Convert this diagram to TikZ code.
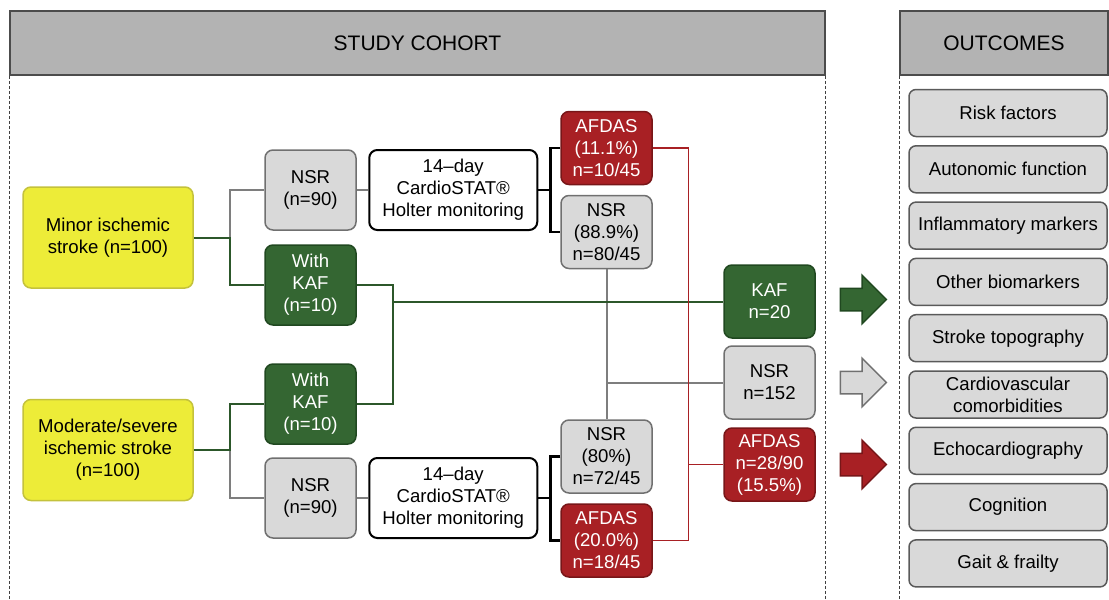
\documentclass[tikz,border=0pt]{standalone}
\usepackage{fontspec}
\setmainfont{Liberation Sans}
\usetikzlibrary{positioning,shapes.arrows}

\definecolor{strokeyellow}{RGB}{237,236,56}
\definecolor{strokeedge}{RGB}{196,194,60}
\definecolor{nsrgray}{RGB}{217,217,217}
\definecolor{nsredge}{RGB}{112,112,112}
\definecolor{kafgreen}{RGB}{52,102,50}
\definecolor{kafedge}{RGB}{32,72,32}
\definecolor{afdasred}{RGB}{168,32,36}
\definecolor{afdasedge}{RGB}{120,22,24}
\definecolor{headgray}{RGB}{179,179,179}

\newcommand{\boxfont}{\fontsize{18.6}{22}\selectfont}
\newcommand{\headfont}{\fontsize{21}{25}\selectfont}

\tikzstyle{cohort flow}=[
    x=1pt, y=-1pt, node distance=9.5pt and 11.5pt,
    every node/.style={font=\boxfont, align=center, inner sep=0pt},
]
\tikzstyle{any box}=[draw, rounded corners=8pt, line width=1.5pt]
\tikzstyle{stroke box}=[any box, fill=strokeyellow, draw=strokeedge, minimum width=170pt, minimum height=101pt]
\tikzstyle{small box}=[any box, minimum width=91pt, minimum height=80pt]
\tikzstyle{result box}=[minimum height=73pt]
\tikzstyle{nsr box}=[small box, fill=nsrgray, draw=nsredge]
\tikzstyle{kaf box}=[small box, fill=kafgreen, draw=kafedge, text=white]
\tikzstyle{afdas box}=[small box, fill=afdasred, draw=afdasedge, text=white]
\tikzstyle{holter box}=[any box, draw=black, fill=white, line width=2pt, minimum width=168pt, minimum height=80pt]
\tikzstyle{outcome box}=[any box, fill=nsrgray, draw=nsredge!80!black, rounded corners=7pt, minimum width=198pt, minimum height=47pt]
\tikzstyle{head box}=[draw=black!70, fill=headgray, line width=1.5pt, minimum height=64pt, font=\headfont]
\tikzstyle{big arrow}=[single arrow, minimum height=46pt, minimum width=47pt, inner sep=0pt, inner ysep=10.5pt, single arrow head extend=13pt, line width=1.5pt]
\tikzstyle{gray line}=[draw=nsredge!90, line width=2pt]
\tikzstyle{green line}=[draw=kafgreen!85!black, line width=2pt]
\tikzstyle{red line}=[draw=afdasred, line width=1.5pt]
\tikzstyle{black line}=[draw=black, line width=2.5pt]
\tikzstyle{frame line}=[draw=black!75, line width=1pt, dash pattern=on 3pt off 2pt]

\begin{document}
\begin{tikzpicture}[cohort flow]
    \useasboundingbox (0,0) rectangle (1109,600);

    \node[head box, minimum width=815pt] (cohortHead) at (417.5,43) {STUDY COHORT};
    \node[head box, minimum width=208pt] (outcomeHead) at (1004,43) {OUTCOMES};
    \coordinate (floor) at (0,600);
    \draw[frame line] (cohortHead.south west) -- (cohortHead.south west |- floor);
    \draw[frame line] (cohortHead.south east) -- (cohortHead.south east |- floor);
    \draw[frame line] (outcomeHead.south west) -- (outcomeHead.south west |- floor);

    \node[stroke box] (minor) at (108,237.5) {Minor ischemic\\stroke (n=100)};
    \node[stroke box] (modsev) at (108,450) {Moderate/severe\\ischemic stroke\\(n=100)};

    \node[nsr box] (nsrA) at (310.5,190) {NSR\\(n=90)};
    \node[kaf box] (kafA) at (310.5,285) {With\\KAF\\(n=10)};
    \node[kaf box] (kafB) at (310.5,404) {With\\KAF\\(n=10)};
    \node[nsr box] (nsrB) at (310.5,498) {NSR\\(n=90)};

    \node[holter box, right=of nsrA] (holterA) {14–day\\CardioSTAT®\\Holter monitoring};
    \node[holter box, right=of nsrB] (holterB) {14–day\\CardioSTAT®\\Holter monitoring};

    \node[afdas box, result box] (afdasA) at (606.5,148) {AFDAS\\(11.1\%)\\n=10/45};
    \node[nsr box, result box, below=of afdasA] (nsrA2) {NSR\\(88.9\%)\\n=80/45};
    \node[nsr box, result box] (nsrB2) at (606.5,456.5) {NSR\\(80\%)\\n=72/45};
    \node[afdas box, result box, below=of nsrB2] (afdasB) {AFDAS\\(20.0\%)\\n=18/45};

    \node[kaf box, result box] (kafT) at (769.5,301.5) {KAF\\n=20};
    \node[nsr box, result box, below=6.5pt of kafT] (nsrT) {NSR\\n=152};
    \node[afdas box, result box, below=7.5pt of nsrT] (afdasT) {AFDAS\\n=28/90\\(15.5\%)};

    \node[big arrow, fill=kafgreen, draw=kafedge, xshift=42pt, yshift=2pt] (kafArrow) at (kafT.east) {};
    \node[big arrow, fill=nsrgray, draw=nsredge, xshift=42pt] (nsrArrow) at (nsrT.east) {};
    \node[big arrow, fill=afdasred, draw=afdasedge, xshift=42pt] (afdasArrow) at (afdasT.east) {};

    \node[outcome box] (risk) at (1008,113) {Risk factors};
    \node[outcome box, below=7.8pt of risk] (autonomic) {Autonomic function};
    \node[outcome box, below=7.8pt of autonomic] (inflam) {Inflammatory markers};
    \node[outcome box, below=7.8pt of inflam] (biomarkers) {Other biomarkers};
    \node[outcome box, below=7.8pt of biomarkers] (topography) {Stroke topography};
    \node[outcome box, below=7.8pt of topography] (cardio) {Cardiovascular\\comorbidities};
    \node[outcome box, below=7.8pt of cardio] (echo) {Echocardiography};
    \node[outcome box, below=7.8pt of echo] (cognition) {Cognition};
    \node[outcome box, below=7.8pt of cognition] (gait) {Gait \& frailty};

    \coordinate[right=36pt of minor] (forkA);
    \coordinate[right=36pt of modsev] (forkB);
    \coordinate[right=12pt of holterA] (splitA);
    \coordinate[right=12pt of holterB] (splitB);
    \coordinate (kafBus) at (393,301.5);
    \coordinate (nsrBus) at (nsrA2.south |- nsrT.west);
    \coordinate[left=35pt of afdasT] (afdasBus);

    \draw[gray line] (forkA) |- (nsrA.west);
    \draw[gray line] (forkB) |- (nsrB.west);
    \draw[gray line] (nsrA) -- (holterA);
    \draw[gray line] (nsrB) -- (holterB);
    \draw[gray line] (nsrA2.south) -- (nsrB2.north);
    \draw[gray line] (nsrBus) -- (nsrT.west);

    \draw[green line] (minor.east) -- (forkA) |- (kafA.west);
    \draw[green line] (modsev.east) -- (forkB) |- (kafB.west);
    \draw[green line] (kafA.east) -| (kafBus) -- (kafT.west);
    \draw[green line] (kafB.east) -| (kafBus);

    \draw[black line] (holterA) -- (splitA);
    \draw[black line] (afdasA.west) -| (splitA) |- (nsrA2.west);
    \draw[black line] (holterB) -- (splitB);
    \draw[black line] (nsrB2.west) -| (splitB) |- (afdasB.west);

    \draw[red line] (afdasA.east) -| (afdasBus) |- (afdasB.east);
    \draw[red line] (afdasBus) -- (afdasT.west);
\end{tikzpicture}
\end{document}
